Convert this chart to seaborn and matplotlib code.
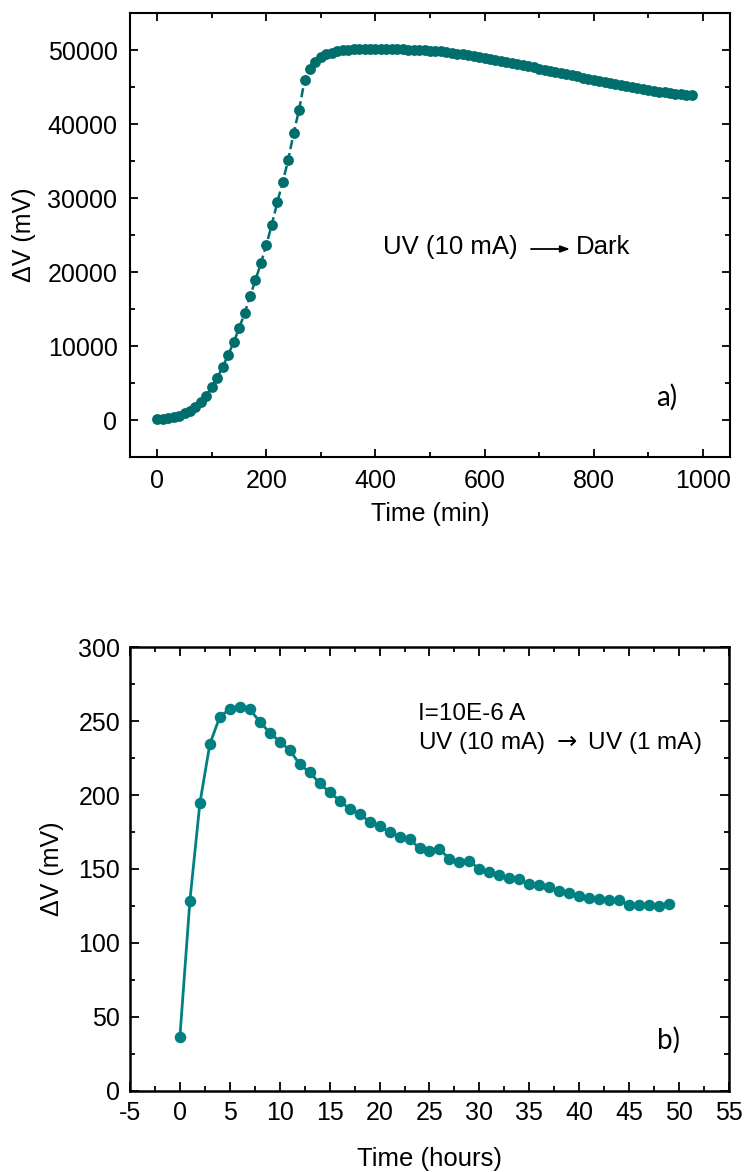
import numpy as np
import matplotlib
matplotlib.use("Agg")
import matplotlib.pyplot as plt
from matplotlib.ticker import MultipleLocator
import seaborn as sns

# panel a) : UV (10 mA) -> Dark, time in minutes
time_min = [0, 10, 20, 30, 40, 50, 60, 70, 80, 90,
            100, 110, 120, 130, 140, 150, 160, 170, 180, 190,
            200, 210, 220, 230, 240, 250, 260, 270, 280, 290,
            300, 310, 320, 330, 340, 350, 360, 370, 380, 390,
            400, 410, 420, 430, 440, 450, 460, 470, 480, 490,
            500, 510, 520, 530, 540, 550, 560, 570, 580, 590,
            600, 610, 620, 630, 640, 650, 660, 670, 680, 690,
            700, 710, 720, 730, 740, 750, 760, 770, 780, 790,
            800, 810, 820, 830, 840, 850, 860, 870, 880, 890,
            900, 910, 920, 930, 940, 950, 960, 970, 980]
dv_a = [150, 180, 280, 420, 600, 900, 1250, 1800, 2450, 3300,
        4500, 5700, 7200, 8800, 10500, 12400, 14400, 16700, 18900, 21200,
        23700, 26400, 29400, 32200, 35100, 38800, 41900, 45900, 47400, 48400,
        49000, 49400, 49650, 49820, 49940, 50030, 50090, 50130, 50150, 50160,
        50160, 50150, 50140, 50120, 50100, 50080, 50050, 50030, 50000, 49970,
        49930, 49900, 49800, 49700, 49600, 49500, 49400, 49300, 49190, 49060,
        48930, 48800, 48680, 48550, 48420, 48290, 48100, 47920, 47790, 47640,
        47500, 47360, 47220, 47060, 46900, 46740, 46580, 46420, 46260, 46100,
        45960, 45820, 45680, 45540, 45400, 45260, 45100, 44980, 44860, 44740,
        44620, 44500, 44380, 44270, 44180, 44090, 44010, 43940, 43890]

# panel b) : UV (10 mA) -> UV (1 mA), time in hours
time_h = list(range(0, 50))
dv_b = [36.7, 128.6, 194.5, 234.5, 252.9, 258.1, 259.7, 257.9, 249.5, 242.1,
        236.0, 230.4, 220.7, 215.3, 207.9, 201.8, 196.2, 190.5, 187.2, 182.0,
        179.0, 174.8, 171.8, 170.3, 164.0, 162.2, 163.5, 156.8, 154.5, 155.4,
        149.8, 148.2, 145.9, 143.7, 143.0, 139.7, 139.2, 138.0, 135.1, 133.6,
        132.0, 130.6, 129.5, 128.9, 129.0, 125.7, 125.5, 125.9, 125.2, 126.1]

sns.set_style("ticks")
plt.rcParams['font.family'] = ['Liberation Sans', 'DejaVu Sans']
plt.rcParams['axes.unicode_minus'] = False
for k in ['text.color', 'axes.labelcolor', 'xtick.color', 'ytick.color',
          'xtick.labelcolor', 'ytick.labelcolor']:
    plt.rcParams[k] = 'black'

W, H = 747, 1172
fig = plt.figure(figsize=(W / 100, H / 100), dpi=100)


def px_axes(l, t, r, b):
    return [l / W, 1 - b / H, (r - l) / W, (b - t) / H]


def style_axes(ax, spine_w, maj_len, min_len, fs):
    for s in ax.spines.values():
        s.set_visible(True)
        s.set_linewidth(spine_w)
        s.set_color('black')
    ax.tick_params(which='both', direction='in', top=True, right=True,
                   color='black', width=1.3, labelsize=fs, labelcolor='black')
    ax.tick_params(which='major', length=maj_len, pad=9)
    ax.tick_params(which='minor', length=min_len)
    ax.grid(False)


# ---- top panel
ax1 = fig.add_axes(px_axes(130, 13, 730, 457))
sns.lineplot(x=time_min, y=dv_a, ax=ax1, color='#006e6c', marker='o',
             markersize=7.8, markeredgewidth=0, linestyle='--', linewidth=1.8)
ax1.set_xlim(-50, 1050)
ax1.set_ylim(-5000, 55000)
ax1.xaxis.set_major_locator(MultipleLocator(200))
ax1.xaxis.set_minor_locator(MultipleLocator(100))
ax1.yaxis.set_major_locator(MultipleLocator(10000))
ax1.yaxis.set_minor_locator(MultipleLocator(5000))
style_axes(ax1, 1.5, 6, 3.5, 18)
ax1.set_xlabel('Time (min)', fontsize=18, labelpad=6)
ax1.set_ylabel('ΔV (mV)', fontsize=18, labelpad=8)

# annotation: "UV (10 mA) -> Dark" with a filled arrow head
ax1.text((383 - 130) / 600, (457 - 247) / 444, 'UV (10 mA)',
         transform=ax1.transAxes, fontsize=18.5, ha='left', va='center')
ax1.text((576 - 130) / 600, (457 - 247) / 444, 'Dark',
         transform=ax1.transAxes, fontsize=18.5, ha='left', va='center')
ax1.annotate('', xy=((570 - 130) / 600, (457 - 249) / 444),
             xytext=((531 - 130) / 600, (457 - 249) / 444),
             xycoords='axes fraction', textcoords='axes fraction',
             arrowprops=dict(arrowstyle='-|>,head_length=0.55,head_width=0.2',
                             color='black', lw=1.3, shrinkA=0, shrinkB=0))
ax1.text((656 - 130) / 600, (457 - 397) / 444, 'a)', transform=ax1.transAxes,
         fontsize=20, family=['Lato', 'DejaVu Sans'], ha='left', va='center')

# ---- bottom panel
ax2 = fig.add_axes(px_axes(130, 647, 729, 1091))
sns.lineplot(x=time_h, y=dv_b, ax=ax2, color='#008080', marker='o',
             markersize=8.3, markeredgewidth=0, linewidth=2.0)
ax2.set_xlim(-5, 55)
ax2.set_ylim(0, 300)
ax2.xaxis.set_major_locator(MultipleLocator(5))
ax2.xaxis.set_minor_locator(MultipleLocator(2.5))
ax2.yaxis.set_major_locator(MultipleLocator(50))
ax2.yaxis.set_minor_locator(MultipleLocator(25))
style_axes(ax2, 1.8, 6.5, 3.5, 18)
ax2.tick_params(which='major', pad=7)
ax2.set_xlabel('Time (hours)', fontsize=18.5, labelpad=16)
ax2.set_ylabel('ΔV (mV)', fontsize=18, labelpad=10)

ax2.text((418 - 130) / 599, (1091 - 714) / 444, 'I=10E-6 A',
         transform=ax2.transAxes, fontsize=17.5, ha='left', va='center')
ax2.text((418 - 130) / 599, (1091 - 743) / 444,
         'UV (10 mA) $\\rightarrow$ UV (1 mA)',
         transform=ax2.transAxes, fontsize=17.5, ha='left', va='center')
ax2.text((657 - 130) / 599, (1091 - 1040) / 444, 'b)', transform=ax2.transAxes,
         fontsize=20, family=['Lato', 'DejaVu Sans'], ha='left', va='center')

fig.savefig('out.png', dpi=100)
